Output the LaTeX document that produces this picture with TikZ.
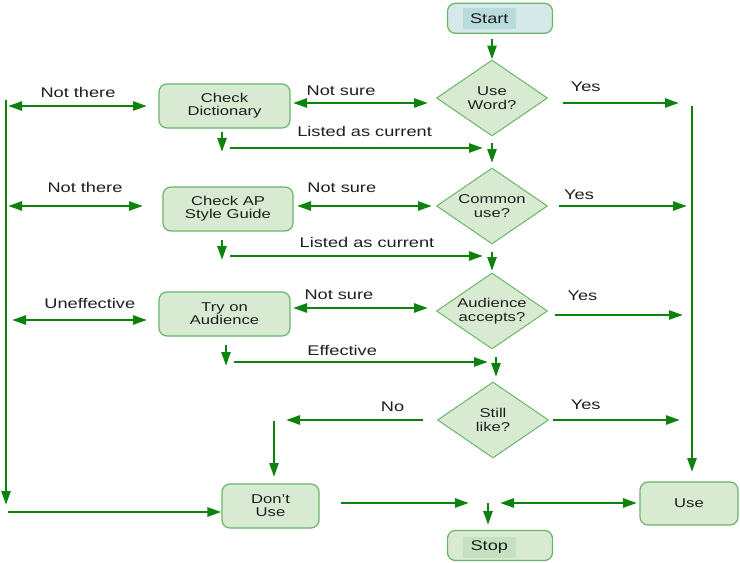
\documentclass[tikz,border=0pt]{standalone}
\usepackage{fontspec}
\setmainfont{Liberation Sans}[FakeStretch=1.3]
\usepackage{tikz}
\usetikzlibrary{shapes.geometric, arrows.meta}
\usepackage{xcolor}
\definecolor{flowgreen}{RGB}{14,130,14}
\definecolor{boxfill}{RGB}{217,234,211}
\definecolor{boxline}{RGB}{104,182,104}
\definecolor{termfill}{RGB}{214,233,233}
\definecolor{termhl}{RGB}{184,219,219}
\definecolor{stophl}{RGB}{196,226,194}
\definecolor{txtgray}{RGB}{30,30,30}
\tikzset{
    flowbox/.style={
        rectangle,
        rounded corners=8pt,
        draw=boxline,
        fill=boxfill,
        line width=1.2pt,
        align=center,
        text=txtgray,
        font=\fontsize{12.8}{13}\selectfont
    },
    decision/.style={
        diamond,
        draw=boxline,
        fill=boxfill,
        line width=1pt,
        inner sep=0pt,
        minimum width=111pt,
        minimum height=76pt,
        align=center,
        text=txtgray,
        font=\fontsize{12.8}{13.5}\selectfont
    },
    highlight/.style={
        rectangle,
        inner sep=0pt,
        minimum width=53pt,
        minimum height=21pt,
        text=txtgray,
        font=\fontsize{14}{16}\selectfont
    },
    flowarrow/.style={
        draw=flowgreen,
        line width=2.5pt,
        -{Triangle[length=14pt,width=9pt]}
    },
    twoway/.style={
        flowarrow,
        {Triangle[length=14pt,width=9pt]}-{Triangle[length=14pt,width=9pt]}
    },
    lbl/.style={
        anchor=base,
        inner sep=0pt,
        text=txtgray,
        font=\fontsize{14}{16}\selectfont
    }
}
\begin{document}
\begin{tikzpicture}[x=1pt,y=-1pt]
  \useasboundingbox (0,0) rectangle (740,563);

  % boxes
  \node[flowbox, fill=termfill, minimum width=105pt, minimum height=30pt] (start) at (500,18.3) {};
  \node[highlight, fill=termhl] (starttext) at (489.3,18.5) {Start};
  \node[decision, aspect=1.46] (useword) at (492,98) {Use\\Word?};
  \node[decision, aspect=1.46] (commonuse) at (492,206) {Common\\use?};
  \node[decision, aspect=1.46] (accepts) at (492,311) {Audience\\accepts?};
  \node[decision, aspect=1.46] (stilllike) at (493,420) {Still\\like?};
  \node[flowbox, minimum width=131pt, minimum height=44pt] (dict) at (224.5,106) {Check\\Dictionary};
  \node[flowbox, minimum width=130pt, minimum height=44pt] (apguide) at (228,209) {Check AP\\Style Guide};
  \node[flowbox, minimum width=131pt, minimum height=44pt] (tryaud) at (224.5,314) {Try on\\Audience};
  \node[flowbox, minimum width=97pt, minimum height=44pt] (dontuse) at (270.5,506) {Don't\\Use};
  \node[flowbox, minimum width=98pt, minimum height=43pt] (use) at (689,503.5) {Use};
  \node[flowbox, minimum width=105pt, minimum height=30pt] (stop) at (500,545.5) {};
  \node[highlight, fill=stophl] (stoptext) at (489.3,547.5) {Stop};

  % arrow ends
  \foreach \n/\x/\y in {
      sw/492/39,
      ysA1/563/103, ysB1/679/103,
      nsA1/293/103, nsB1/428/103,
      ntA1/8/106, ntB1/147/106,
      ddA1/222/132, ddB1/222/152,
      lcA1/230/148, lcB1/483/148,
      dmA1/492/143, dmB1/492/163,
      ysA2/559/206, ysB2/687/206,
      nsA2/297/206, nsB2/432/206,
      ntA2/8/206, ntB2/143/206,
      ddA2/222/240, ddB2/222/260,
      lcA2/230/256, lcB2/483/256,
      dmA2/492/252, dmB2/492/271,
      ysA3/555/315, ysB3/683/315,
      nsA3/293/308, nsB3/428/308,
      unA/12/320, unB/147/320,
      ddA3/226/345, ddB3/226/366,
      efA/234/362, efB/488/362,
      dmA3/496/357, dmB3/496/377,
      ysA4/553/420, ysB4/680/420,
      noA/423/420, noB/286/420,
      ndA/274/421, ndB/274/477,
      rA/692/106, rB/692/472,
      lA/6/100, lB/6/505,
      bA/8/512,
      duA/341/503, duB/469/503,
      usA/500/503, usB/637/503,
      spA/488/503, spB/488/525}
    {
      \coordinate (\n) at (\x,\y);
    }

  % connectors
  \draw[flowarrow] (sw) -- (useword.north);
  \foreach \a/\b in {ysA1/ysB1, ddA1/ddB1, lcA1/lcB1, dmA1/dmB1,
      ysA2/ysB2, ddA2/ddB2, lcA2/lcB2, dmA2/dmB2,
      ysA3/ysB3, ddA3/ddB3, efA/efB, dmA3/dmB3,
      ysA4/ysB4, noA/noB, ndA/ndB, rA/rB, lA/lB,
      duA/duB, spA/spB}
    {
      \draw[flowarrow] (\a) -- (\b);
    }
  \foreach \a/\b in {nsA1/nsB1, ntA1/ntB1, nsA2/nsB2, ntA2/ntB2,
      nsA3/nsB3, unA/unB, usA/usB}
    {
      \draw[twoway] (\a) -- (\b);
    }
  \draw[flowarrow] (bA) -- (bA -| dontuse.west);

  % labels
  \node[lbl] (notthere1) at (78,97) {Not there};
  \node[lbl] (notsure1) at (341,95) {Not sure};
  \node[lbl] (listed1) at (364.6,136.7) {Listed as current};
  \node[lbl] (yes1) at (585.7,91) {Yes};
  \node[lbl] (notthere2) at (85,192.7) {Not there};
  \node[lbl] (notsure2) at (341.8,192.7) {Not sure};
  \node[lbl] (listed2) at (367,247.7) {Listed as current};
  \node[lbl] (yes2) at (579,199.3) {Yes};
  \node[lbl] (uneffective) at (89.8,308) {Uneffective};
  \node[lbl] (notsure3) at (338.9,299.3) {Not sure};
  \node[lbl] (effective) at (342.2,355) {Effective};
  \node[lbl] (yes3) at (582.4,300.7) {Yes};
  \node[lbl] (no) at (392.6,411.7) {No};
  \node[lbl] (yes4) at (585.7,409) {Yes};

\end{tikzpicture}
\end{document}
